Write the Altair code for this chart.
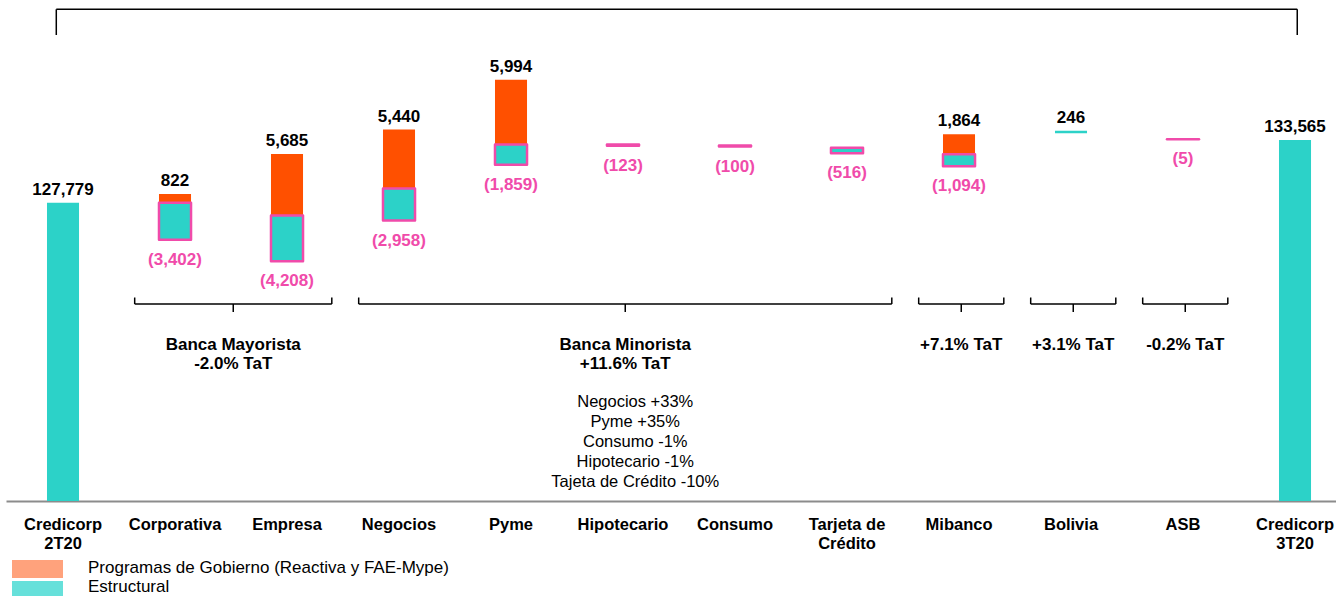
import altair as alt
import pandas as pd

# Colocaciones por segmento (S/ millones), Credicorp 2T20 -> 3T20
categorias = ["Credicorp\n2T20", "Corporativa", "Empresa", "Negocios", "Pyme",
              "Hipotecario", "Consumo", "Tarjeta de\nCrédito", "Mibanco",
              "Bolivia", "ASB", "Credicorp\n3T20"]
saldo_inicial = 127779
saldo_final = 133565

pasos = ["Corporativa", "Empresa", "Negocios", "Pyme", "Hipotecario", "Consumo",
         "Tarjeta de\nCrédito", "Mibanco", "Bolivia", "ASB"]
programas_gobierno = [822, 5685, 5440, 5994, 0, 0, 0, 1864, 0, 0]
estructural = [-3402, -4208, -2958, -1859, -123, -100, -516, -1094, 246, -5]
# nivel desde el que arranca cada paso
nivel = [127779, 126600, 129100, 133150, 133170, 133075, 132860, 132250, 134190, 133645]

grupos = ["Banca Mayorista\n-2.0% TaT", "Banca Minorista\n+11.6% TaT",
          "+7.1% TaT", "+3.1% TaT", "-0.2% TaT"]
grupo_desde = ["Corporativa", "Negocios", "Mibanco", "Bolivia", "ASB"]
grupo_hasta = ["Empresa", "Tarjeta de\nCrédito", "Mibanco", "Bolivia", "ASB"]
detalle_minorista = ["Negocios +33%", "Pyme +35%", "Consumo -1%",
                     "Hipotecario -1%", "Tajeta de Crédito -10%"]
leyenda = ["Programas de Gobierno (Reactiva y FAE-Mype)", "Estructural"]

# --- estilo ---
TEAL = "#2CD2C8"
ORANGE = "#FF5000"
PINK = "#F04BAA"
ORANGE_LIGHT = "#FFA27C"
TEAL_LIGHT = "#66E0DA"
FONT = "Liberation Sans, Arial, sans-serif"

AXIS_FLOOR = 100250      # eje cortado
Y_TOP = 146500
BAR_HALF = 0.143         # media anchura de barra, en unidades de categoría
X_MIN, X_MAX = -0.509, 11.366

pos = {c: i for i, c in enumerate(categorias)}

tot = pd.DataFrame({"idx": [0, len(categorias) - 1],
                    "valor": [saldo_inicial, saldo_final]})
tot["x0"] = tot["idx"] - BAR_HALF
tot["x1"] = tot["idx"] + BAR_HALF
tot["piso"] = AXIS_FLOOR

df = pd.DataFrame({"cat": pasos, "gob": programas_gobierno,
                   "est": estructural, "nivel": nivel})
df["idx"] = df["cat"].map(pos)
df["x0"] = df["idx"] - BAR_HALF
df["x1"] = df["idx"] + BAR_HALF
df["tope_gob"] = df["nivel"] + df["gob"]
df["fin_est"] = df["nivel"] + df["est"]
gob_df = df[df["gob"] > 0]
neg_df = df[df["est"] < 0]
posi_df = df[df["est"] > 0]

cat_df = pd.DataFrame({"idx": list(range(len(categorias))), "cat": categorias})

g = pd.DataFrame({"grupo": grupos, "desde": grupo_desde, "hasta": grupo_hasta})
g["a"] = g["desde"].map(pos) - 0.36
g["b"] = g["hasta"].map(pos) + 0.40
g["m"] = (g["a"] + g["b"]) / 2

top_br = pd.DataFrame({"a": [-0.06], "b": [len(categorias) - 1 + 0.02]})

XS = alt.Scale(domain=[X_MIN, X_MAX], nice=False, zero=False)
YS = alt.Scale(domain=[AXIS_FLOOR, Y_TOP], nice=False, zero=False)
XAXIS = alt.Axis(title=None, labels=False, ticks=False, grid=False,
                 domainColor="#8c8c8c", domainWidth=2)


def X(f):
    return alt.X(f, type="quantitative", scale=XS, axis=XAXIS)


def Y(f):
    return alt.Y(f, type="quantitative", scale=YS, axis=None)


lbl = dict(font=FONT, fontSize=17, fontWeight="bold")

totales = alt.Chart(tot).mark_rect(color=TEAL).encode(
    x=X("x0"), x2="x1", y=Y("valor"), y2="piso")
totales_txt = alt.Chart(tot).transform_calculate(
    t="format(datum.valor, ',')").mark_text(
    baseline="alphabetic", dy=-8, color="black", **lbl).encode(
    x=X("idx"), y=Y("valor"), text="t:N")

gob_bar = alt.Chart(gob_df).mark_rect(color=ORANGE).encode(
    x=X("x0"), x2="x1", y=Y("nivel"), y2="tope_gob")
gob_txt = alt.Chart(gob_df).transform_calculate(
    t="format(datum.gob, ',')").mark_text(
    baseline="alphabetic", dy=-8, color="black", **lbl).encode(
    x=X("idx"), y=Y("tope_gob"), text="t:N")

neg_bar = alt.Chart(neg_df).mark_rect(
    color=TEAL, stroke=PINK, strokeWidth=2.5, strokeJoin="round").encode(
    x=X("x0"), x2="x1", y=Y("nivel"), y2="fin_est")
neg_txt = alt.Chart(neg_df).transform_calculate(
    t="'(' + format(-datum.est, ',') + ')'").mark_text(
    baseline="top", dy=12, color=PINK, **lbl).encode(
    x=X("idx"), y=Y("fin_est"), text="t:N")

pos_bar = alt.Chart(posi_df).mark_rect(color=TEAL).encode(
    x=X("x0"), x2="x1", y=Y("nivel"), y2="fin_est")
pos_txt = alt.Chart(posi_df).transform_calculate(
    t="format(datum.est, ',')").mark_text(
    baseline="alphabetic", dy=-8, color="black", **lbl).encode(
    x=X("idx"), y=Y("fin_est"), text="t:N")

cat_txt = alt.Chart(cat_df).mark_text(
    font=FONT, fontSize=16.5, fontWeight="bold", baseline="alphabetic",
    lineBreak="\n", lineHeight=19, color="black").encode(
    x=X("idx"), y=alt.value(529.5), text="cat:N")

rule = dict(color="black", strokeWidth=1.5)
br_h = alt.Chart(g).mark_rule(**rule).encode(x=X("a"), x2="b", y=alt.value(304))
br_l = alt.Chart(g).mark_rule(**rule).encode(x=X("a"), y=alt.value(297.5), y2=alt.value(304))
br_r = alt.Chart(g).mark_rule(**rule).encode(x=X("b"), y=alt.value(297.5), y2=alt.value(304))
br_c = alt.Chart(g).mark_rule(**rule).encode(x=X("m"), y=alt.value(304), y2=alt.value(312))
grp_txt = alt.Chart(g).mark_text(
    baseline="alphabetic", lineBreak="\n", lineHeight=19, color="black",
    **lbl).encode(x=X("m"), y=alt.value(350), text="grupo:N")

det_df = g[g["desde"] == "Negocios"].assign(det="\n".join(detalle_minorista))
det_txt = alt.Chart(det_df).mark_text(
    font=FONT, fontSize=16.5, baseline="alphabetic", lineBreak="\n",
    lineHeight=20, color="black", dx=10).encode(
    x=X("m"), y=alt.value(406.8), text="det:N")

tb_h = alt.Chart(top_br).mark_rule(**rule).encode(x=X("a"), x2="b", y=alt.value(9.3))
tb_l = alt.Chart(top_br).mark_rule(**rule).encode(x=X("a"), y=alt.value(9.3), y2=alt.value(35))
tb_r = alt.Chart(top_br).mark_rule(**rule).encode(x=X("b"), y=alt.value(9.3), y2=alt.value(35))

ley1 = pd.DataFrame({"t": [leyenda[0]]})
ley2 = pd.DataFrame({"t": [leyenda[1]]})
sw1 = alt.Chart(ley1).mark_rect(color=ORANGE_LIGHT).encode(
    x=alt.value(6), x2=alt.value(57), y=alt.value(560), y2=alt.value(578))
sw2 = alt.Chart(ley2).mark_rect(color=TEAL_LIGHT).encode(
    x=alt.value(6), x2=alt.value(57), y=alt.value(581), y2=alt.value(600))
lt1 = alt.Chart(ley1).mark_text(font=FONT, fontSize=17, align="left",
                                baseline="alphabetic", color="black").encode(
    x=alt.value(82), y=alt.value(573), text="t:N")
lt2 = alt.Chart(ley2).mark_text(font=FONT, fontSize=17, align="left",
                                baseline="alphabetic", color="black").encode(
    x=alt.value(82), y=alt.value(592), text="t:N")

chart = alt.layer(
    totales, gob_bar, neg_bar, pos_bar,
    totales_txt, gob_txt, neg_txt, pos_txt,
    cat_txt, br_h, br_l, br_r, br_c, grp_txt, det_txt,
    tb_h, tb_l, tb_r, sw1, sw2, lt1, lt2,
).properties(
    width=1330, height=501,
    autosize=alt.AutoSizeParams(type="none"),
    padding={"left": 6, "top": 0, "right": 0, "bottom": 95},
    background="white",
).configure_view(stroke=None)

chart.save("out.html", embed_options={"renderer": "svg", "actions": False})
